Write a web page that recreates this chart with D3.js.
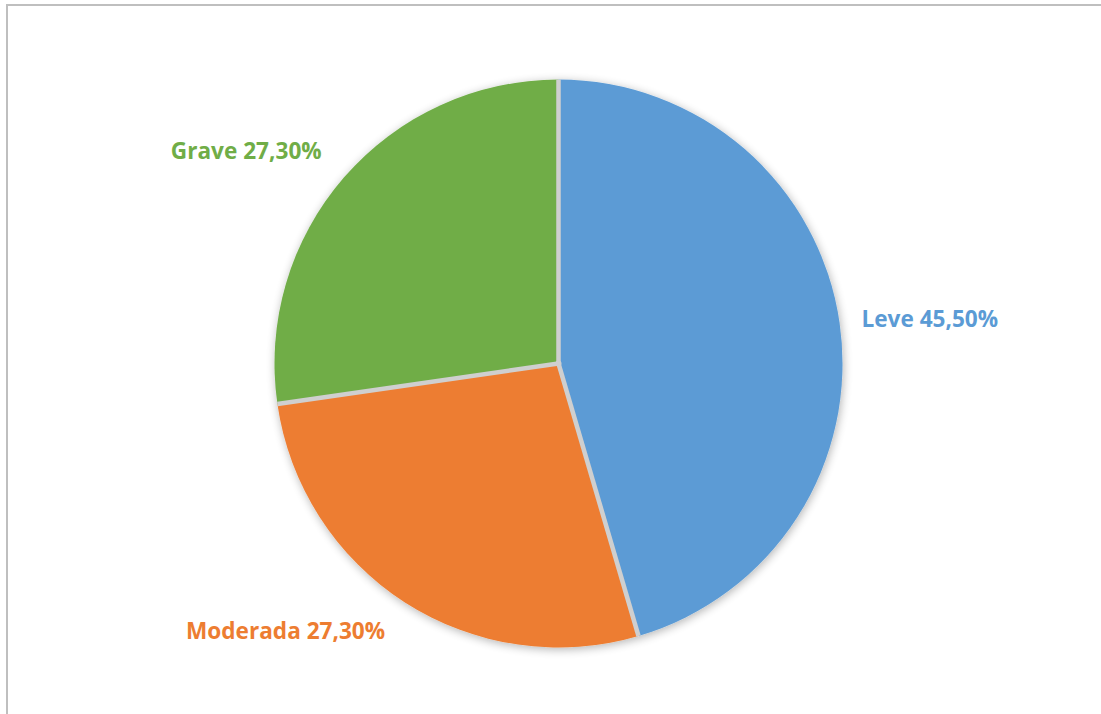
<!DOCTYPE html>
<html>
<head>
<meta charset="utf-8">
<script src="https://cdn.jsdelivr.net/npm/d3@7"></script>
<style>
  html, body { margin: 0; padding: 0; background: #fff; }
  svg { display: block; }
</style>
</head>
<body>
<svg id="chart" width="1101" height="714"></svg>
<script>
// Distribution by severity
const categories = ["Leve", "Moderada", "Grave"];
const values = [45.5, 27.3, 27.3];
const valueLabels = ["45,50%", "27,30%", "27,30%"];
const colors = ["#5B9BD5", "#ED7D31", "#70AD47"];

const width = 1101, height = 714;
const cx = 558.5, cy = 363.5, radius = 284;

// Label placement (polar, degrees clockwise from 12 o'clock)
const labelPlacement = {
  "Leve":     { angle: 83.1,  dist: 374 },
  "Moderada": { angle: 225.6, dist: 382 },
  "Grave":    { angle: 304.3, dist: 378 }
};

const svg = d3.select("#chart");

// Chart frame
svg.append("rect")
  .attr("x", 7).attr("y", 5)
  .attr("width", 1110).attr("height", 720)
  .attr("fill", "#fff")
  .attr("stroke", "#bfbfbf")
  .attr("stroke-width", 2);

const defs = svg.append("defs");
const shadow = defs.append("filter")
  .attr("id", "pieShadow")
  .attr("x", "-20%").attr("y", "-20%")
  .attr("width", "140%").attr("height", "140%");
shadow.append("feGaussianBlur")
  .attr("in", "SourceAlpha").attr("stdDeviation", 5).attr("result", "blur");
shadow.append("feOffset").attr("in", "blur").attr("dx", 1).attr("dy", 2).attr("result", "off");
shadow.append("feComponentTransfer").attr("in", "off").attr("result", "soft")
  .append("feFuncA").attr("type", "linear").attr("slope", 0.3);
const merge = shadow.append("feMerge");
merge.append("feMergeNode").attr("in", "soft");
merge.append("feMergeNode").attr("in", "SourceGraphic");

const data = categories.map((c, i) => ({ name: c, value: values[i], label: valueLabels[i], color: colors[i] }));

const pie = d3.pie().sort(null).value(d => d.value);
const arcs = pie(data);
const arc = d3.arc().innerRadius(0).outerRadius(radius);

const g = svg.append("g").attr("transform", `translate(${cx},${cy})`);

const pieG = g.append("g").attr("filter", "url(#pieShadow)");

pieG.selectAll("path")
  .data(arcs)
  .join("path")
  .attr("d", arc)
  .attr("fill", d => d.data.color);

// Slice separators along the radial edges
pieG.selectAll("line.sep")
  .data(arcs)
  .join("line")
  .attr("class", "sep")
  .attr("x1", 0).attr("y1", 0)
  .attr("x2", d => radius * Math.sin(d.startAngle))
  .attr("y2", d => -radius * Math.cos(d.startAngle))
  .attr("stroke", "#cfcfcf")
  .attr("stroke-width", 4.5)
  .attr("stroke-linecap", "butt");

pieG.append("circle")
  .attr("r", 3).attr("fill", "#cfcfcf");

g.selectAll("text.lbl")
  .data(arcs)
  .join("text")
  .attr("class", "lbl")
  .attr("x", d => {
    const p = labelPlacement[d.data.name];
    return p.dist * Math.sin(p.angle * Math.PI / 180);
  })
  .attr("y", d => {
    const p = labelPlacement[d.data.name];
    return -p.dist * Math.cos(p.angle * Math.PI / 180);
  })
  .attr("dy", "0.36em")
  .attr("text-anchor", "middle")
  .attr("font-family", "'Open Sans', 'Liberation Sans', sans-serif")
  .attr("font-weight", 700)
  .attr("font-size", 22.6)
  .attr("fill", d => d.data.color)
  .text(d => `${d.data.name} ${d.data.label}`);
</script>
</body>
</html>
